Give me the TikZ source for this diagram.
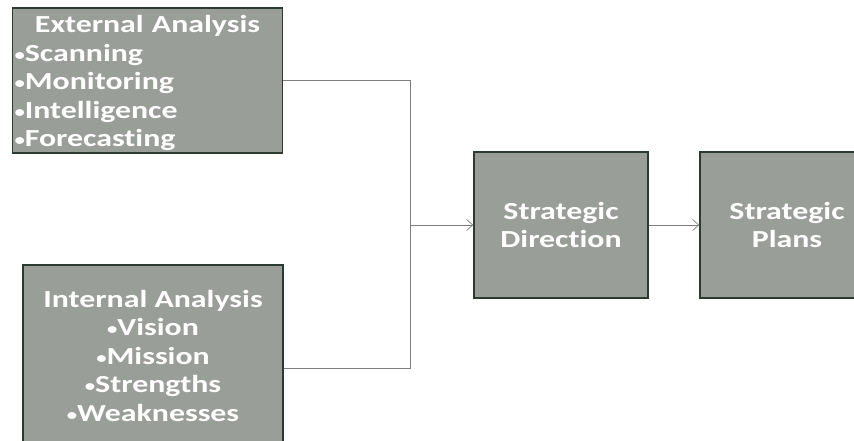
\documentclass[tikz,border=0pt]{standalone}
\usepackage{fontspec}
\setmainfont{Carlito}[FakeStretch=1.3, Ligatures=CommonOff]
\usetikzlibrary{arrows.meta, positioning, calc}

\definecolor{boxgray}{RGB}{154,158,152}
\definecolor{boxedge}{RGB}{44,58,50}
\definecolor{wiregray}{RGB}{125,125,125}

\newcommand{\bul}{\raisebox{1pt}{\fontsize{16}{16}\selectfont•}}

\begin{document}
\begin{tikzpicture}[%
    >={Straight Barb[length=6pt,width=11pt]}, % open arrow heads as in the scan
    node distance=20pt and 40pt,
    ]

\tikzset{
  base/.style={on grid, draw=boxedge, line width=1.6pt, fill=boxgray, text=white,
               font=\bfseries\fontsize{24.5}{28.5}\selectfont, inner sep=2pt},
  stage/.style={base, align=center, minimum width=174pt, minimum height=146pt},
  flow/.style={draw=wiregray, line width=0.7pt}
  };

\useasboundingbox (0,0) rectangle (854pt,-441pt);
\clip (0,0) rectangle (854pt,-441pt);

% ANALYSIS
\node[base, text width=266pt, minimum height=145pt, align=left, text depth=113pt] (external)
    at (147.5pt,-80.5pt)
    { \makebox[\hsize]{External Analysis}\\ \bul Scanning\\ \bul Monitoring\\
      \bul Intelligence\\ \bul Forecasting };

\node[base, below right=287.5pt and 5.5pt of external, align=center,
      minimum width=260pt, minimum height=206pt, text depth=25pt] (internal)
    { Internal Analysis\\ \bul Vision\\ \bul Mission\\ \bul Strengths\\ \bul Weaknesses };

% STRATEGY
\node[stage, below right=144.5pt and 413.5pt of external] (direction) { Strategic\\ Direction };
\node[stage, right=226pt of direction] (plans) { Strategic\\ Plans };

\coordinate[on grid, left=151pt of direction] (merge);

\draw[flow] (external) -| (merge);
\draw[flow] (internal) -| (merge);
\draw[flow, ->] (merge) -- (direction);
\draw[flow, ->] (direction) -- (plans);

\end{tikzpicture}
\end{document}
